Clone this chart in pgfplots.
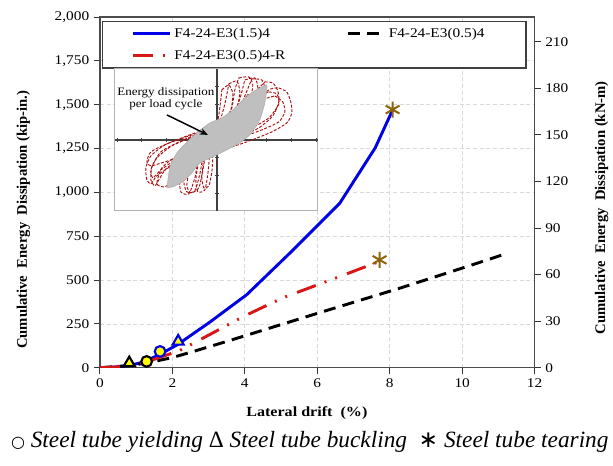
\documentclass[border=0pt]{standalone}
\usepackage{pgfplots}
\pgfplotsset{compat=1.18}
\usepackage{fontspec}
\usetikzlibrary{arrows.meta}
\setmainfont{Liberation Serif}
\newfontfamily\widefont{Liberation Serif}[FakeStretch=1.15]
\newfontfamily\symfont{DejaVu Sans}

\definecolor{specblue}{RGB}{0,0,230}
\definecolor{specred}{RGB}{215,22,22}
\definecolor{tearing}{RGB}{140,100,10}
\definecolor{loopred}{RGB}{170,16,16}
\definecolor{marky}{RGB}{255,255,0}

\pgfplotsset{loop/.style={loopred, dash pattern=on 2.2pt off 1.2pt, line width=0.7pt, smooth, tension=0.4}}

\begin{document}
\begin{tikzpicture}
% ---------------- main axis: energy in kip-in. ----------------
\begin{axis}[
  name=main,
  scale only axis, width=326.25pt, height=263.25pt,
  xmin=0, xmax=12, ymin=0, ymax=2000,
  xtick={0,2,...,12}, ytick={0,250,...,2000},
  xtick pos=bottom, ytick pos=left,
  tick align=outside, major tick length=4.5pt,
  tick style={black!80, line width=0.7pt},
  grid=major, grid style={densely dashed, black!15, line width=0.5pt},
  axis line style={black!70, line width=0.9pt},
  ticklabel style={font=\widefont\fontsize{10}{12}\selectfont},
  /pgf/number format/assume math mode=true,
  /pgf/number format/1000 sep={,},
  xlabel={Lateral drift\ \ (\%)},
  xlabel style={font=\widefont\bfseries\fontsize{10.5}{12}\selectfont,
    at={(rel axis cs:0.476,-0.128)}, anchor=center},
  ylabel={Cumulative\ \ Energy\ \ Dissipation (kip-in.)},
  ylabel style={font=\bfseries\fontsize{11}{13}\selectfont,
    at={(rel axis cs:-0.176,0.422)}, anchor=center},
  legend columns=2,
  legend cell align=left,
  legend image code/.code={\draw[#1] (0pt,0pt) -- (27.75pt,0pt);},
  legend style={at={(rel axis cs:0.0046,0.9886)}, anchor=north west,
    draw=black!75, line width=0.8pt, fill=white,
    font=\widefont\fontsize{10}{11}\selectfont,
    inner xsep=22pt, inner ysep=3pt, row sep=4pt,
    /tikz/every even column/.append style={column sep=2pt}},
]
% F4-24-E3(1.5)4
\addplot[specblue, line width=2.2pt, mark=none] coordinates {
  (0,0) (0.4,4) (0.8,12) (1.2,32) (1.65,75) (2.15,133) (3,255)
  (4.05,416) (5.3,665) (6.62,938) (7.6,1254) (8.08,1470)};
\addlegendentry{\makebox[125pt][l]{F4-24-E3(1.5)4}}
% F4-24-E3(0.5)4
\addplot[black, line width=2.2pt, mark=none, dash pattern=on 9pt off 5.5pt] coordinates {
  (0,0) (0.8,12) (1.3,27) (2,58) (2.5,88) (3.5,150) (4.5,214)
  (6,310) (8.3,455) (10,568) (11.12,644)};
\addlegendentry{\makebox[79pt][l]{F4-24-E3(0.5)4}}
% F4-24-E3(0.5)4-R
\addplot[specred, line width=2.2pt, mark=none,
  dash pattern=on 15pt off 7pt on 1.5pt off 7pt on 1.5pt off 8pt] coordinates {
  (0,0) (0.5,5) (1,20) (1.46,45) (2.2,98) (3.12,199) (3.95,291)
  (5.05,399) (6.62,520) (7.7,605)};
\addlegendentry{\makebox[125pt][l]{F4-24-E3(0.5)4-R}}
% damage states
\addplot[forget plot, only marks, mark=triangle*, mark size=4.8pt,
  mark options={fill=marky, draw=black, line width=1.6pt}] coordinates {(0.81,27)};
\addplot[forget plot, only marks, mark=*, mark size=4pt,
  mark options={fill=marky, draw=black, line width=1.6pt}] coordinates {(1.29,36)};
\addplot[forget plot, only marks, mark=*, mark size=4pt,
  mark options={fill=marky, draw=specblue, line width=1.6pt}] coordinates {(1.66,93)};
\addplot[forget plot, only marks, mark=triangle*, mark size=4.8pt,
  mark options={fill=marky, draw=specblue, line width=1.6pt}] coordinates {(2.16,150)};
\addplot[forget plot, only marks, mark=asterisk, mark size=6pt,
  mark options={draw=tearing, line width=1.5pt}] coordinates {(8.08,1472) (7.72,615)};
\end{axis}

% ---------------- secondary axis: energy in kN-m ----------------
\begin{axis}[
  scale only axis, width=326.25pt, height=263.25pt,
  xmin=0, xmax=12, ymin=0, ymax=225.97,
  axis x line=none, axis y line*=right,
  ytick={0,30,...,210},
  tick align=outside, major tick length=4.5pt,
  tick style={black!80, line width=0.7pt},
  axis line style={black!70, line width=0.9pt},
  ticklabel style={font=\widefont\fontsize{10}{12}\selectfont},
  /pgf/number format/assume math mode=true,
  ylabel={Cumulative\ \ Energy\ \ Dissipation (kN-m)},
  ylabel style={font=\bfseries\fontsize{11}{13}\selectfont,
    at={(rel axis cs:1.154,0.456)}, anchor=center},
]
\end{axis}

% ---------------- inset: hysteresis loops ----------------
\begin{axis}[
  at={(11.25pt,117.75pt)}, anchor=south west,
  scale only axis, width=152.25pt, height=106.5pt,
  xmin=-102, xmax=101, ymin=-71, ymax=71,
  axis lines=middle, axis line style={-, black!75, line width=1pt},
  xtick={-100,-75,-50,-25,25,50,75,100},
  ytick={-54,-36,-18,18,36,54},
  xticklabels={}, yticklabels={},
  major tick length=2.5pt, tick style={black!75, line width=0.6pt},
  axis background/.style={fill=white, draw=black!30, line width=0.8pt},
  clip=false,
]
\addplot[loop] coordinates {
  (62,52) (70,48) (74,38) (75,27) (70,17) (55,8) (30,-2) (5,-10) (-20,-17)
  (-45,-26) (-60,-36) (-66,-44) (-70,-40) (-71,-28) (-66,-16) (-52,-5)
  (-30,4) (-5,13) (20,26) (40,42) (54,51) (62,52)};
\addplot[loop] coordinates {
  (48,58) (56,57) (61,49) (62,38) (56,24) (42,12) (20,2) (-5,-8) (-30,-17)
  (-50,-28) (-58,-40) (-62,-46) (-66,-40) (-65,-27) (-56,-12) (-38,-2)
  (-15,8) (10,20) (30,38) (42,52) (48,58)};
\addplot[loop] coordinates {
  (58,44) (66,38) (68,28) (62,18) (45,10) (20,1) (-5,-7) (-30,-15)
  (-52,-22) (-66,-26) (-70,-22) (-66,-12) (-50,-4) (-25,5) (0,14)
  (25,28) (45,40) (58,44)};
\addplot[loop] coordinates {
  (22,62) (32,63) (36,55) (33,40) (24,27) (10,16) (-2,5) (-10,-10)
  (-14,-30) (-18,-48) (-26,-53) (-30,-46) (-27,-28) (-18,-12) (-5,3)
  (8,16) (15,32) (18,50) (22,62)};
\addplot[loop] coordinates {
  (35,61) (45,60) (48,50) (42,33) (28,21) (8,9) (-8,-4) (-18,-18)
  (-22,-38) (-28,-54) (-36,-52) (-37,-38) (-30,-20) (-14,-6) (4,8)
  (20,24) (28,44) (35,61)};
\addplot[loop] coordinates {
  (12,56) (20,59) (23,48) (20,32) (10,20) (-3,6) (-7,-14) (-9,-34)
  (-12,-50) (-19,-52) (-21,-40) (-18,-22) (-9,-2) (2,16) (8,36) (12,56)};
\addplot[loop] coordinates {
  (28,60) (38,62) (41,52) (37,36) (27,24) (12,14) (-4,2) (-13,-14)
  (-17,-34) (-22,-51) (-30,-52) (-33,-42) (-30,-24) (-20,-8) (-4,6)
  (12,20) (22,38) (28,60)};
\addplot[loop] coordinates {
  (5,50) (12,55) (16,46) (14,30) (6,18) (-4,6) (-4,-14) (-5,-32)
  (-8,-46) (-13,-48) (-15,-38) (-13,-20) (-6,-2) (0,14) (3,32) (5,50)};
\addplot[loop] coordinates {
  (30,45) (38,44) (40,35) (30,25) (10,12) (-15,-2) (-40,-16) (-55,-28)
  (-60,-44) (-52,-47) (-45,-40) (-40,-25) (-28,-12) (-10,0) (10,15)
  (25,32) (30,45)};
\addplot[loop] coordinates {
  (52,48) (60,46) (62,36) (52,22) (35,12) (12,2) (-12,-8) (-38,-18)
  (-56,-30) (-64,-38) (-66,-30) (-60,-18) (-45,-6) (-22,4) (5,16)
  (30,32) (45,45) (52,48)};
% one representative cycle
\addplot[fill=gray!50, draw=gray!70, line width=0.3pt, smooth, tension=0.3] coordinates {
  (-50,-48) (-47,-27) (-40,-13) (-30,-2) (-19,8) (-7,17) (5,22) (16,30)
  (26,40) (36,48) (50,55) (48,37) (43,20) (33,5) (23,-3) (10,-10)
  (-4,-17) (-17,-23) (-25,-33) (-34,-42) (-44,-47) (-50,-48)};
\draw[-{Stealth[length=6pt,width=5pt]}, line width=1.1pt] (axis cs:-50,25) -- (axis cs:-9,5);
\node[font=\widefont\fontsize{8.5}{9.5}\selectfont, align=center]
  at (axis cs:-51,41) {Energy dissipation\\per load cycle};
\end{axis}

% damage-state key below the plot
\node[font=\itshape\fontsize{17.5}{19}\selectfont] at (157.5pt,-55.5pt)
  {{\upshape\symfont\fontsize{12}{14}\selectfont ○} Steel tube yielding {\upshape Δ} Steel tube buckling\ \ {\upshape\symfont ∗} Steel tube tearing};
\path (-75pt,-73.5pt) rectangle (384.75pt,276pt);
\end{tikzpicture}
\end{document}
